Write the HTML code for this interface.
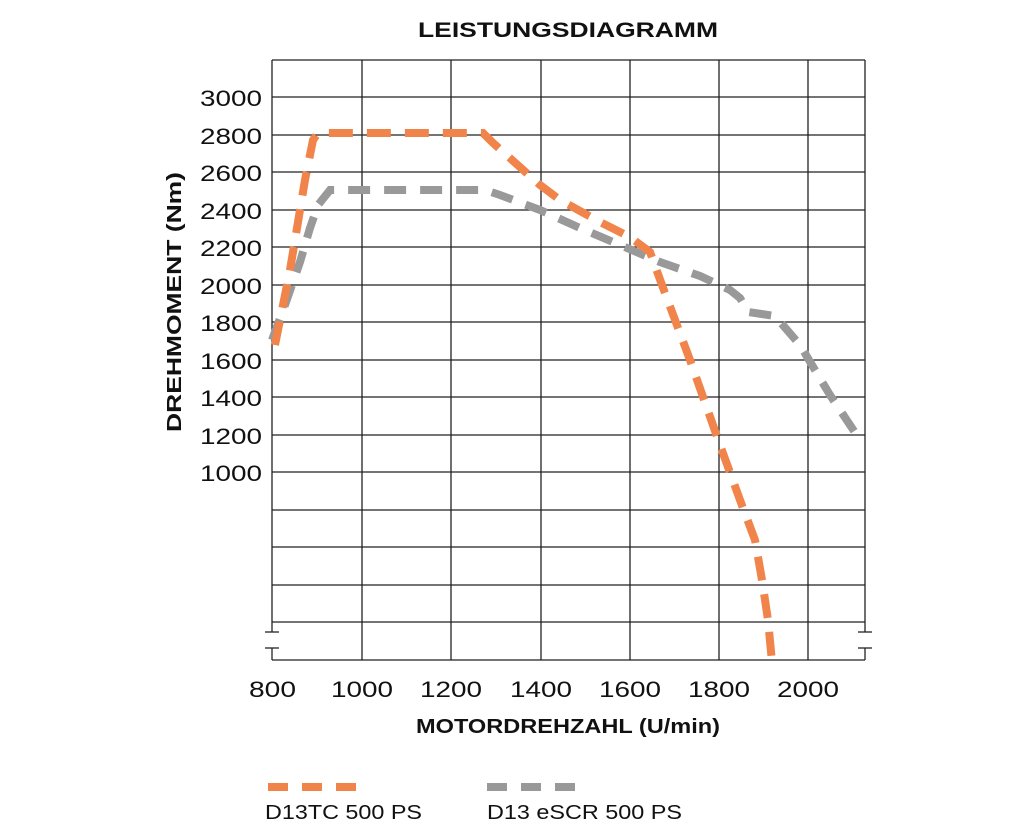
<!DOCTYPE html>
<html><head><meta charset="utf-8"><style>
html,body{margin:0;padding:0;background:#fff;}
svg{display:block;font-family:"Liberation Sans",Arial,sans-serif;}
</style></head><body>
<svg width="1024" height="834" viewBox="0 0 1024 834" xmlns="http://www.w3.org/2000/svg">
<rect width="1024" height="834" fill="#fff"/>
<text x="418" y="37" font-size="21" font-weight="bold" fill="#111" textLength="300" lengthAdjust="spacingAndGlyphs">LEISTUNGSDIAGRAMM</text>
<g stroke="#222" stroke-width="1.3" fill="none">
<line x1="272" y1="60" x2="865" y2="60"/>
<line x1="272" y1="97" x2="865" y2="97"/>
<line x1="272" y1="135" x2="865" y2="135"/>
<line x1="272" y1="172" x2="865" y2="172"/>
<line x1="272" y1="210" x2="865" y2="210"/>
<line x1="272" y1="247" x2="865" y2="247"/>
<line x1="272" y1="285" x2="865" y2="285"/>
<line x1="272" y1="322" x2="865" y2="322"/>
<line x1="272" y1="360" x2="865" y2="360"/>
<line x1="272" y1="397" x2="865" y2="397"/>
<line x1="272" y1="435" x2="865" y2="435"/>
<line x1="272" y1="472" x2="865" y2="472"/>
<line x1="272" y1="510" x2="865" y2="510"/>
<line x1="272" y1="547" x2="865" y2="547"/>
<line x1="272" y1="585" x2="865" y2="585"/>
<line x1="272" y1="622" x2="865" y2="622"/>
<line x1="272" y1="660" x2="865" y2="660"/>
<line x1="272" y1="60" x2="272" y2="632"/>
<line x1="272" y1="648" x2="272" y2="660"/>
<line x1="865" y1="60" x2="865" y2="632"/>
<line x1="865" y1="648" x2="865" y2="660"/>
<line x1="362" y1="60" x2="362" y2="660"/>
<line x1="451" y1="60" x2="451" y2="660"/>
<line x1="541" y1="60" x2="541" y2="660"/>
<line x1="630" y1="60" x2="630" y2="660"/>
<line x1="719" y1="60" x2="719" y2="660"/>
<line x1="808" y1="60" x2="808" y2="660"/>
<line x1="265" y1="632" x2="279" y2="632"/>
<line x1="265" y1="648" x2="279" y2="648"/>
<line x1="858" y1="632" x2="872" y2="632"/>
<line x1="858" y1="648" x2="872" y2="648"/>
</g>
<g font-size="22" fill="#111">
<text x="200" y="106" textLength="62" lengthAdjust="spacingAndGlyphs">3000</text>
<text x="200" y="144" textLength="62" lengthAdjust="spacingAndGlyphs">2800</text>
<text x="200" y="181" textLength="62" lengthAdjust="spacingAndGlyphs">2600</text>
<text x="200" y="219" textLength="62" lengthAdjust="spacingAndGlyphs">2400</text>
<text x="200" y="256" textLength="62" lengthAdjust="spacingAndGlyphs">2200</text>
<text x="200" y="294" textLength="62" lengthAdjust="spacingAndGlyphs">2000</text>
<text x="200" y="331" textLength="62" lengthAdjust="spacingAndGlyphs">1800</text>
<text x="200" y="369" textLength="62" lengthAdjust="spacingAndGlyphs">1600</text>
<text x="200" y="406" textLength="62" lengthAdjust="spacingAndGlyphs">1400</text>
<text x="200" y="444" textLength="62" lengthAdjust="spacingAndGlyphs">1200</text>
<text x="200" y="481" textLength="62" lengthAdjust="spacingAndGlyphs">1000</text>
</g>
<g font-size="22" fill="#111">
<text x="249" y="697" textLength="47" lengthAdjust="spacingAndGlyphs">800</text>
<text x="331" y="697" textLength="62" lengthAdjust="spacingAndGlyphs">1000</text>
<text x="420" y="697" textLength="62" lengthAdjust="spacingAndGlyphs">1200</text>
<text x="510" y="697" textLength="62" lengthAdjust="spacingAndGlyphs">1400</text>
<text x="599" y="697" textLength="62" lengthAdjust="spacingAndGlyphs">1600</text>
<text x="688" y="697" textLength="62" lengthAdjust="spacingAndGlyphs">1800</text>
<text x="777" y="697" textLength="62" lengthAdjust="spacingAndGlyphs">2000</text>
</g>
<text x="416" y="733" font-size="20" font-weight="bold" fill="#111" textLength="304" lengthAdjust="spacingAndGlyphs">MOTORDREHZAHL (U/min)</text>
<text transform="translate(181,432) rotate(-90)" font-size="20" font-weight="bold" fill="#111" textLength="260" lengthAdjust="spacingAndGlyphs">DREHMOMENT (Nm)</text>
<polyline fill="none" stroke="#999" stroke-width="8" stroke-dasharray="22,14" points="272,340 285,305 300,262 310,228 318,205 330,190 485,190 500,195 540,210 580,228 620,245 660,262 700,276 730,290 740,298 748,312 775,316 800,345 830,395 860,440"/>
<polyline fill="none" stroke="#F0844A" stroke-width="8" stroke-dasharray="24,14" points="275,345 290,270 305,180 313,140 318,133 483,133 492,142 540,185 560,200 600,222 630,237 650,252 662,285 690,360 720,445 740,500 755,540 762,580 768,620 772,662"/>
<g stroke-width="8">
<line x1="268" y1="787" x2="356" y2="787" stroke="#F0844A" stroke-dasharray="20,14"/>
<line x1="487" y1="787" x2="575" y2="787" stroke="#999" stroke-dasharray="20,14"/>
</g>
<text x="265" y="819" font-size="20" fill="#111" textLength="157" lengthAdjust="spacingAndGlyphs">D13TC 500 PS</text>
<text x="487" y="819" font-size="20" fill="#111" textLength="195" lengthAdjust="spacingAndGlyphs">D13 eSCR 500 PS</text>
</svg>
</body></html>
